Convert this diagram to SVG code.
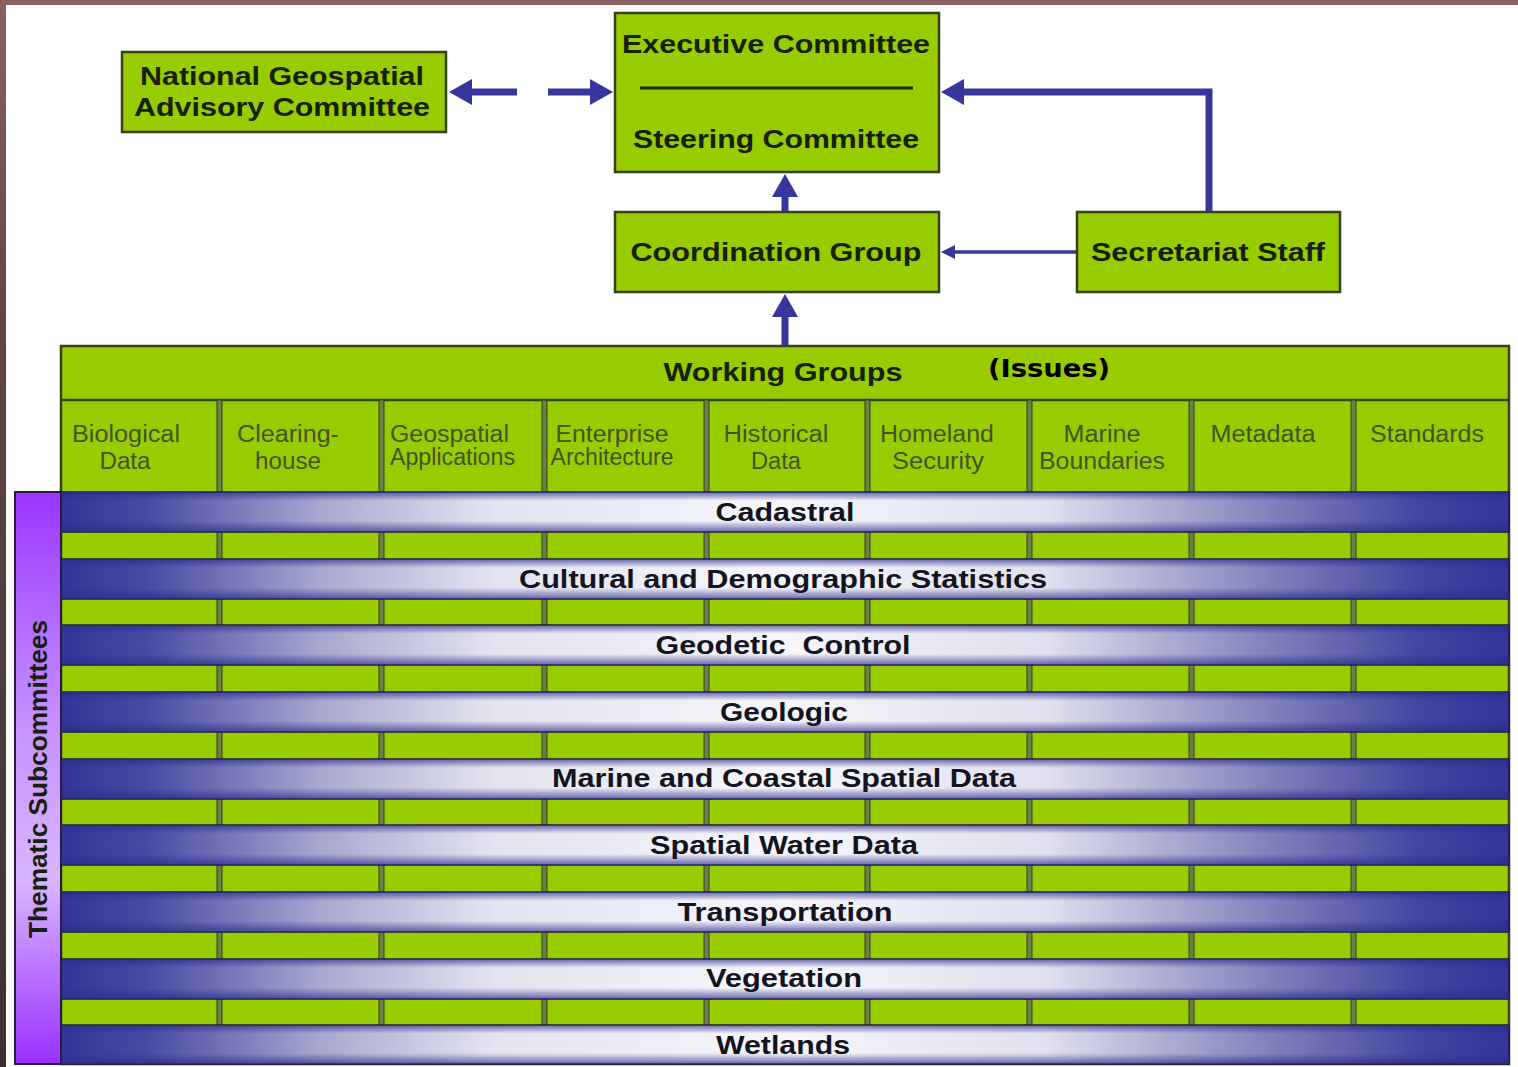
<svg xmlns="http://www.w3.org/2000/svg" width="1518" height="1067" viewBox="0 0 1518 1067">
<defs>
<style>
.box{fill:#99cc00;stroke:#34421a;stroke-width:2.5}
.t{font-family:"Liberation Sans",Arial,sans-serif;font-weight:bold;fill:#16200c;text-anchor:middle;font-size:26px}
.c{font-family:"Liberation Sans",Arial,sans-serif;fill:#46522c;text-anchor:middle;font-size:23px}
.cl{font-family:"Liberation Sans",Arial,sans-serif;fill:#46522c;text-anchor:start;font-size:23px}
.bt{font-family:"Liberation Sans",Arial,sans-serif;font-weight:bold;fill:#14141e;text-anchor:middle;font-size:25px}
.arr{fill:none;stroke:#36369c;stroke-width:7;stroke-linejoin:miter}
.thin{fill:none;stroke:#36369c;stroke-width:3.5}
.sep{fill:#6f7f48;stroke:#34421a;stroke-width:1}
.band{fill:url(#bandH);stroke:#1c1c3a;stroke-width:1.5}
.bandv{fill:url(#bandV)}
</style>
<linearGradient id="bandH" x1="0" y1="0" x2="1" y2="0">
<stop offset="0" stop-color="#343498"/>
<stop offset="0.06" stop-color="#4a4aa4"/>
<stop offset="0.18" stop-color="#a8a8d0"/>
<stop offset="0.3" stop-color="#e4e4f0"/>
<stop offset="0.5" stop-color="#f6f6fb"/>
<stop offset="0.68" stop-color="#e0e0ee"/>
<stop offset="0.82" stop-color="#8a8ac0"/>
<stop offset="0.94" stop-color="#4444a2"/>
<stop offset="1" stop-color="#34349a"/>
</linearGradient>
<linearGradient id="bandV" x1="0" y1="0" x2="0" y2="1">
<stop offset="0" stop-color="#2a2a8a" stop-opacity="0.7"/>
<stop offset="0.22" stop-color="#2a2a8a" stop-opacity="0"/>
<stop offset="0.72" stop-color="#2a2a8a" stop-opacity="0"/>
<stop offset="1" stop-color="#2a2a8a" stop-opacity="0.7"/>
</linearGradient>
<linearGradient id="them" x1="0" y1="0" x2="0" y2="1">
<stop offset="0" stop-color="#9a36ff"/>
<stop offset="0.4" stop-color="#c690ff"/>
<stop offset="0.68" stop-color="#d8b6ff"/>
<stop offset="1" stop-color="#9a30ff"/>
</linearGradient>
<linearGradient id="leftEdge" x1="0" y1="0" x2="0" y2="1">
<stop offset="0" stop-color="#8b6262"/>
<stop offset="0.3" stop-color="#5e4646"/>
<stop offset="1" stop-color="#3e3030"/>
</linearGradient>
<marker id="head" markerUnits="userSpaceOnUse" markerWidth="23" markerHeight="26" refX="0" refY="13" orient="auto">
<path d="M0,0 L23,13 L0,26 z" fill="#36369c"/>
</marker>
<marker id="headS" markerUnits="userSpaceOnUse" markerWidth="14" markerHeight="14" refX="0" refY="7" orient="auto">
<path d="M0,0 L14,7 L0,14 z" fill="#36369c"/>
</marker>
</defs>
<rect x="0" y="0" width="1518" height="1067" fill="#ffffff"/>
<rect x="0" y="0" width="1518" height="5" fill="#8b6262"/>
<rect x="0" y="0" width="6" height="1067" fill="url(#leftEdge)"/>

<g id="connectors">
<path class="arr" d="M517,92 L472,92" marker-end="url(#head)"/>
<path class="arr" d="M548,92 L590,92" marker-end="url(#head)"/>
<path class="arr" d="M1209,212 L1209,92 L964,92" marker-end="url(#head)"/>
<path class="arr" d="M785,212 L785,197" marker-end="url(#head)"/>
<path class="arr" d="M785,346 L785,317" marker-end="url(#head)"/>
<path class="thin" d="M1077,252 L955,252" marker-end="url(#headS)"/>
</g>

<g id="ngac">
<rect class="box" x="122" y="52" width="324" height="80"/>
<text class="t" x="282" y="85" textLength="284" lengthAdjust="spacingAndGlyphs">National Geospatial</text>
<text class="t" x="282" y="116" textLength="296" lengthAdjust="spacingAndGlyphs">Advisory Committee</text>
</g>

<g id="executive-steering">
<rect class="box" x="615" y="13" width="324" height="159"/>
<text class="t" x="776" y="53" textLength="308" lengthAdjust="spacingAndGlyphs">Executive Committee</text>
<line x1="640" y1="88" x2="913" y2="88" stroke="#1e2a10" stroke-width="3"/>
<text class="t" x="776" y="148" textLength="286" lengthAdjust="spacingAndGlyphs">Steering Committee</text>
</g>

<g id="coordination">
<rect class="box" x="615" y="212" width="324" height="80"/>
<text class="t" x="776" y="261" textLength="291" lengthAdjust="spacingAndGlyphs">Coordination Group</text>
</g>

<g id="secretariat">
<rect class="box" x="1077" y="212" width="263" height="80"/>
<text class="t" x="1208" y="261" textLength="234" lengthAdjust="spacingAndGlyphs">Secretariat Staff</text>
</g>

<g id="working-groups">
<rect x="61" y="346" width="1448" height="718" fill="#99cc00" stroke="#34421a" stroke-width="2.5"/>
<line x1="61" y1="400" x2="1509" y2="400" stroke="#34421a" stroke-width="2.5"/>
<text class="t" x="783" y="381" textLength="239" lengthAdjust="spacingAndGlyphs">Working Groups</text>
<text x="1049" y="377" font-family="'DejaVu Sans',Verdana,sans-serif" font-weight="bold" font-size="25" fill="#000" text-anchor="middle" textLength="122" lengthAdjust="spacingAndGlyphs">(Issues)</text>
<rect class="sep" x="217" y="400" width="5" height="664"/>
<rect class="sep" x="379" y="400" width="5" height="664"/>
<rect class="sep" x="542" y="400" width="5" height="664"/>
<rect class="sep" x="704" y="400" width="5" height="664"/>
<rect class="sep" x="865" y="400" width="5" height="664"/>
<rect class="sep" x="1027" y="400" width="5" height="664"/>
<rect class="sep" x="1189" y="400" width="5" height="664"/>
<rect class="sep" x="1351" y="400" width="5" height="664"/>
<text class="c" x="126" y="442" textLength="108" lengthAdjust="spacingAndGlyphs">Biological</text>
<text class="c" x="125" y="469" textLength="51" lengthAdjust="spacingAndGlyphs">Data</text>
<text class="c" x="288" y="442" textLength="102" lengthAdjust="spacingAndGlyphs">Clearing-</text>
<text class="c" x="288" y="469" textLength="66" lengthAdjust="spacingAndGlyphs">house</text>
<text class="cl" x="390" y="442" textLength="119" lengthAdjust="spacingAndGlyphs">Geospatial</text>
<text class="cl" x="390" y="465" textLength="125" lengthAdjust="spacingAndGlyphs">Applications</text>
<text class="c" x="612" y="442" textLength="113" lengthAdjust="spacingAndGlyphs">Enterprise</text>
<text class="c" x="612" y="465" textLength="123" lengthAdjust="spacingAndGlyphs">Architecture</text>
<text class="c" x="776" y="442" textLength="105" lengthAdjust="spacingAndGlyphs">Historical</text>
<text class="c" x="776" y="469" textLength="50" lengthAdjust="spacingAndGlyphs">Data</text>
<text class="c" x="937" y="442" textLength="114" lengthAdjust="spacingAndGlyphs">Homeland</text>
<text class="c" x="938" y="469" textLength="92" lengthAdjust="spacingAndGlyphs">Security</text>
<text class="c" x="1102" y="442" textLength="77" lengthAdjust="spacingAndGlyphs">Marine</text>
<text class="c" x="1102" y="469" textLength="126" lengthAdjust="spacingAndGlyphs">Boundaries</text>
<text class="c" x="1263" y="442" textLength="105" lengthAdjust="spacingAndGlyphs">Metadata</text>
<text class="c" x="1427" y="442" textLength="114" lengthAdjust="spacingAndGlyphs">Standards</text>
</g>

<g id="thematic-subcommittees">
<rect x="15" y="492" width="46" height="572" fill="url(#them)" stroke="#2a1a4a" stroke-width="2"/>
<text class="t" transform="translate(47,779) rotate(-90)" x="0" y="0" font-size="25" textLength="318" lengthAdjust="spacingAndGlyphs">Thematic Subcommittees</text>
</g>

<g id="band-cadastral">
<rect class="band" x="61" y="492" width="1448" height="40"/><rect class="bandv" x="61" y="492" width="1448" height="40"/>
<text class="bt" x="785" y="521" textLength="139" lengthAdjust="spacingAndGlyphs">Cadastral</text>
</g>
<g id="band-cultural">
<rect class="band" x="61" y="559" width="1448" height="40"/><rect class="bandv" x="61" y="559" width="1448" height="40"/>
<text class="bt" x="783" y="588" textLength="528" lengthAdjust="spacingAndGlyphs">Cultural and Demographic Statistics</text>
</g>
<g id="band-geodetic">
<rect class="band" x="61" y="625" width="1448" height="40"/><rect class="bandv" x="61" y="625" width="1448" height="40"/>
<text class="bt" x="783" y="654" textLength="255" lengthAdjust="spacingAndGlyphs" xml:space="preserve">Geodetic  Control</text>
</g>
<g id="band-geologic">
<rect class="band" x="61" y="692" width="1448" height="40"/><rect class="bandv" x="61" y="692" width="1448" height="40"/>
<text class="bt" x="784" y="721" textLength="128" lengthAdjust="spacingAndGlyphs">Geologic</text>
</g>
<g id="band-marine">
<rect class="band" x="61" y="759" width="1448" height="40"/><rect class="bandv" x="61" y="759" width="1448" height="40"/>
<text class="bt" x="784" y="787" textLength="464" lengthAdjust="spacingAndGlyphs">Marine and Coastal Spatial Data</text>
</g>
<g id="band-water">
<rect class="band" x="61" y="825" width="1448" height="40"/><rect class="bandv" x="61" y="825" width="1448" height="40"/>
<text class="bt" x="784" y="854" textLength="268" lengthAdjust="spacingAndGlyphs">Spatial Water Data</text>
</g>
<g id="band-transportation">
<rect class="band" x="61" y="892" width="1448" height="40"/><rect class="bandv" x="61" y="892" width="1448" height="40"/>
<text class="bt" x="785" y="921" textLength="215" lengthAdjust="spacingAndGlyphs">Transportation</text>
</g>
<g id="band-vegetation">
<rect class="band" x="61" y="959" width="1448" height="40"/><rect class="bandv" x="61" y="959" width="1448" height="40"/>
<text class="bt" x="784" y="987" textLength="156" lengthAdjust="spacingAndGlyphs">Vegetation</text>
</g>
<g id="band-wetlands">
<rect class="band" x="61" y="1025" width="1448" height="39"/><rect class="bandv" x="61" y="1025" width="1448" height="39"/>
<text class="bt" x="783" y="1054" textLength="134" lengthAdjust="spacingAndGlyphs">Wetlands</text>
</g>
</svg>
